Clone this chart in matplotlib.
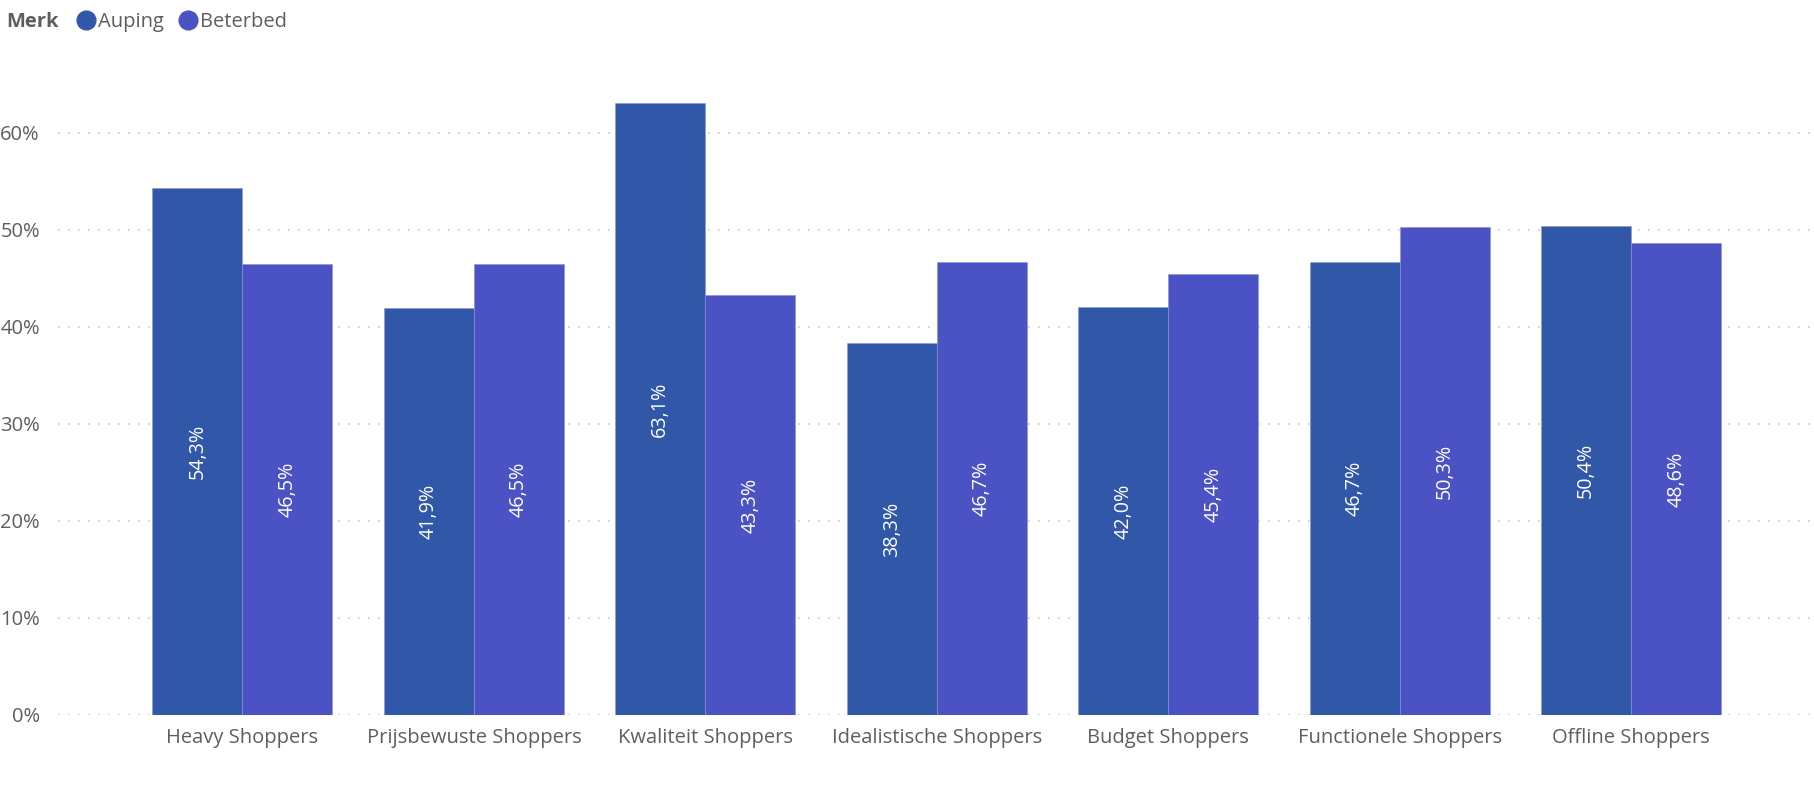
import matplotlib
matplotlib.use("Agg")
import matplotlib.pyplot as plt
from matplotlib.lines import Line2D
import numpy as np

categories = ["Heavy Shoppers", "Prijsbewuste Shoppers", "Kwaliteit Shoppers",
              "Idealistische Shoppers", "Budget Shoppers", "Functionele Shoppers",
              "Offline Shoppers"]
auping = [54.3, 41.9, 63.1, 38.3, 42.0, 46.7, 50.4]
beterbed = [46.5, 46.5, 43.3, 46.7, 45.4, 50.3, 48.6]
series_names = ["Auping", "Beterbed"]
yticks = [0, 10, 20, 30, 40, 50, 60]

c_auping = "#3157A8"
c_beterbed = "#4A52C4"
txt = "#605E5C"

plt.rcParams['font.family'] = ['Open Sans', 'DejaVu Sans']

fig = plt.figure(figsize=(18.14, 7.92), dpi=100)
ax = fig.add_axes([58/1814, 1 - 715/792, (1814-58)/1814, (715-60)/792])

x = np.arange(len(categories))
w = 0.389
b1 = ax.bar(x - w/2, auping, width=w, color=c_auping, edgecolor="#8A9BD0", linewidth=0.4, zorder=3)
b2 = ax.bar(x + w/2, beterbed, width=w, color=c_beterbed, edgecolor="#8A90DA", linewidth=0.4, zorder=3)

for bars, vals in ((b1, auping), (b2, beterbed)):
    for rect, v in zip(bars, vals):
        ax.text(rect.get_x() + rect.get_width()/2, v/2, f"{v:.1f}%".replace(".", ","),
                rotation=90, ha="center", va="center", color="white", fontsize=14.2, zorder=4)

ax.set_xlim(-0.797, 6.79)
ax.set_ylim(0, 67.5)
ax.set_yticks(yticks)
ax.set_yticklabels([f"{t}%" for t in yticks])
ax.set_xticks(x)
ax.set_xticklabels(categories)
ax.tick_params(axis="both", length=0, colors=txt, labelsize=14.5)
ax.tick_params(axis="y", pad=13)
ax.tick_params(axis="x", pad=9)
for s in ax.spines.values():
    s.set_visible(False)
ax.yaxis.grid(True, linestyle=(0, (1, 5)), color="#C8C8C8", linewidth=1.2, zorder=0)
ax.set_axisbelow(True)

# legend
fig.text(6/1814, 1 - 22/792, "Merk", fontsize=14.5, fontweight="bold", color=txt, va="center", ha="left")
handles = [Line2D([0], [0], marker="o", linestyle="", markersize=13.5, color=c)
           for c in (c_auping, c_beterbed)]
leg = fig.legend(handles, series_names, loc="center left", bbox_to_anchor=(74/1814, 1 - 22/792),
                 frameon=False, fontsize=14.5, handletextpad=0.0, columnspacing=0.6, ncol=2,
                 handlelength=1.2, borderaxespad=0, borderpad=0)
for t in leg.get_texts():
    t.set_color(txt)

fig.savefig("out.png", dpi=100)
